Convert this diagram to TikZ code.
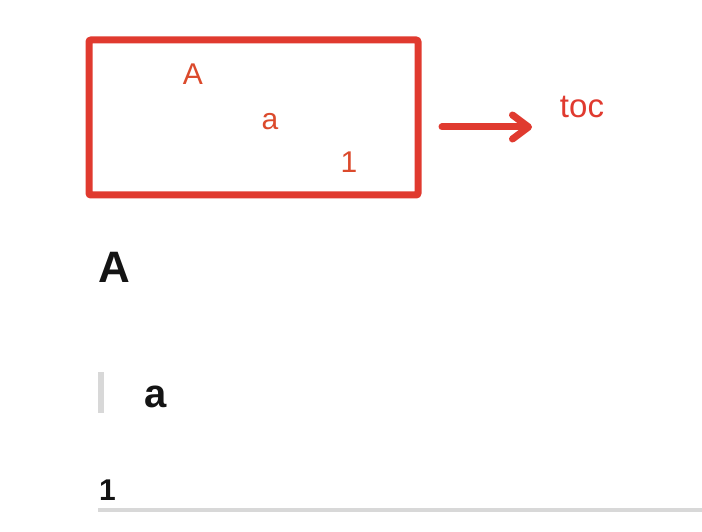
\documentclass[tikz,border=0pt]{standalone}
\usepackage{fontspec}
\setmainfont{Liberation Sans}
\usetikzlibrary{arrows.meta}
\definecolor{boxred}{HTML}{E03A2F}
\definecolor{txtred}{HTML}{DB4A2C}
\definecolor{barg}{HTML}{D8D8D8}
\begin{document}
\begin{tikzpicture}[x=1pt,y=-1pt,
  redtxt/.style={text=txtred,font=\fontsize{30}{33}\selectfont,inner sep=0pt,anchor=base},
  hd/.style={text=black!92,font=\bfseries,inner sep=0pt,anchor=base west}]
\useasboundingbox (0,0) rectangle (702,532);
\node[draw=boxred,line width=7pt,rounded corners=2pt,minimum width=329pt,minimum height=155pt,inner sep=0pt] (box) at (253.5,117.5) {};
\node[redtxt] (tA) at (193,85) {A};
\node[redtxt] (ta) at (270,130) {a};
\node[redtxt] (t1) at (349,173) {1};
\coordinate (s) at (442,127);
\node[text=boxred,font=\fontsize{33}{36}\selectfont,inner sep=0pt,anchor=base] (toc) at (582,118) {toc};
\draw[boxred,line width=7pt,line cap=round,-{Straight Barb[round,length=16pt,width=24pt]}] (s) -- (532,127);
\node[hd,font=\bfseries\fontsize{44}{48}\selectfont] (hA) at (98,282) {A};
\fill[barg] (98,372) rectangle (104,413);
\node[hd,font=\bfseries\fontsize{40}{44}\selectfont] (ha) at (144,407) {a};
\node[hd,font=\bfseries\fontsize{30}{33}\selectfont] (h1) at (99,500) {1};
\fill[barg] (98,507.5) rectangle (702,511.5);
\end{tikzpicture}
\end{document}
